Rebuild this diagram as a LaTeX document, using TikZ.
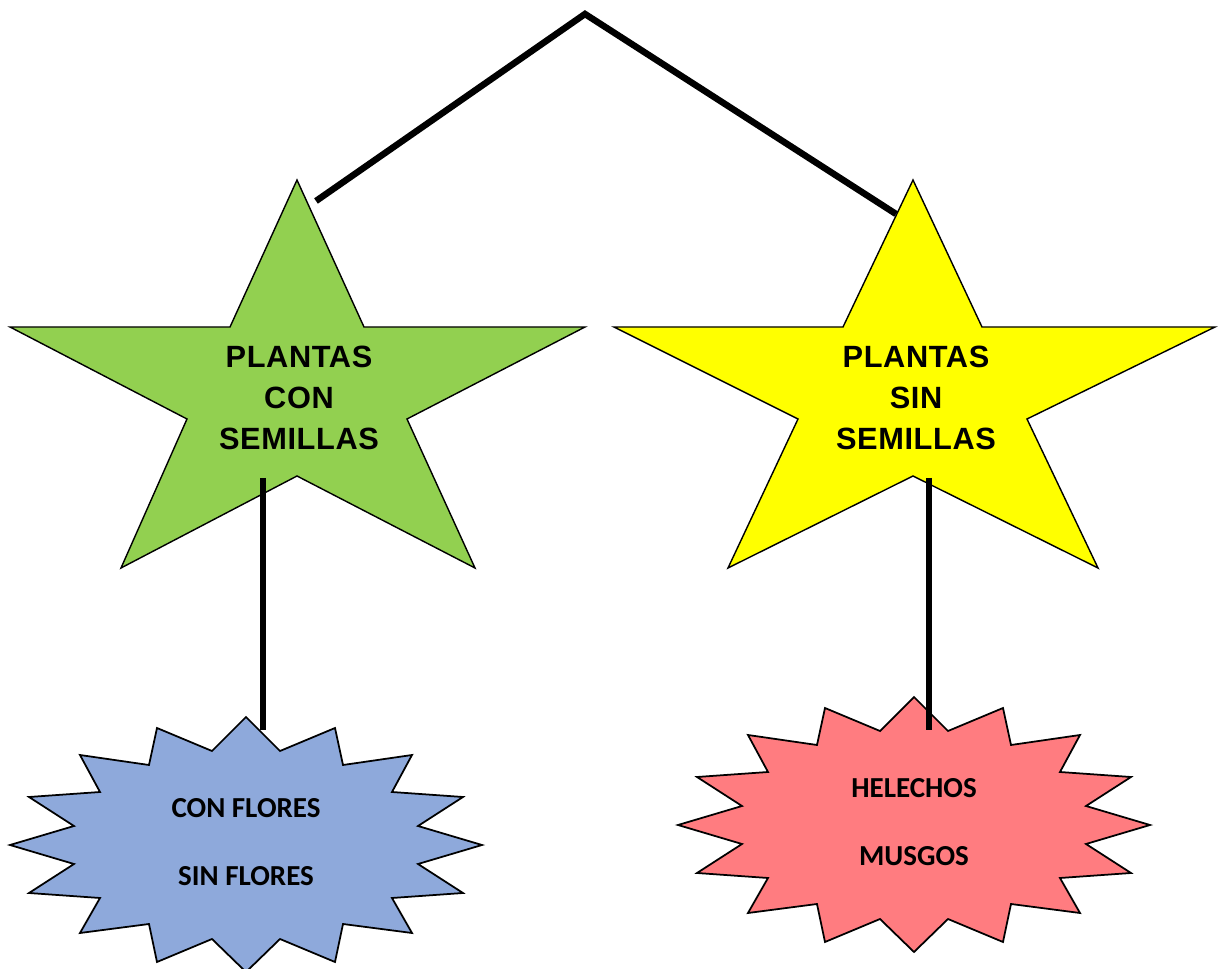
\documentclass[tikz,border=0pt]{standalone}
\usepackage{fontspec}
\setmainfont{Liberation Sans}
\newfontfamily\ancha[LetterSpace=2]{Liberation Sans}
\newfontfamily\carlito{Carlito}
\usepackage{tikz}
\tikzset{>=stealth}

\definecolor{verde}{HTML}{92D050}
\definecolor{amarillo}{HTML}{FFFF00}
\definecolor{azul}{HTML}{8EA9DB}
\definecolor{rosa}{HTML}{FF7C80}

\tikzset{
  estrella/.style={draw=black, line width=0.8pt, line join=miter},
  burbuja/.style={draw=black, line width=1pt, line join=miter},
  rama/.style={line width=3.7pt},
  titulo/.style={align=center, font=\ancha\bfseries\fontsize{17.5}{23.2}\selectfont},
  rotulo/.style={align=center, font=\carlito\bfseries\fontsize{16.5}{38.5}\selectfont},
}

% burst drawn around a centre
\newcommand{\estallido}[2]{%
  \filldraw[burbuja, fill=#2, shift={#1}]
    (0,-128) -- (34,-94) -- (89,-117) -- (97,-80) -- (166,-90) -- (146,-53)
    -- (217,-48) -- (172,-19) -- (236,0) -- (172,19) -- (217,48) -- (146,53)
    -- (166,88) -- (97,79) -- (89,117) -- (34,94) -- (0,127) -- (-34,94)
    -- (-89,117) -- (-97,79) -- (-166,88) -- (-146,53) -- (-217,48) -- (-172,19)
    -- (-236,0) -- (-172,-19) -- (-217,-48) -- (-146,-53) -- (-166,-90)
    -- (-97,-80) -- (-89,-117) -- (-34,-94) -- cycle;}

\begin{document}
\begin{tikzpicture}[x=0.02cm, y=-0.02cm]
    \useasboundingbox (0,0) rectangle (1218,969);

    \filldraw[estrella, fill=verde] (297,180) -- (364,327) -- (585,327) -- (407,419)
        -- (475,568) -- (297,476) -- (121,568) -- (187,419) -- (10,327) -- (230,327) -- cycle;
    \filldraw[estrella, fill=amarillo] (913,180) -- (982,327) -- (1215,327) -- (1027,419)
        -- (1098,568) -- (913,476) -- (728,568) -- (798,419) -- (614,327) -- (843,327) -- cycle;

    \estallido{(246,845)}{azul}
    \estallido{(914,825)}{rosa}

    \node[titulo] at (299,398) (conSem) {PLANTAS\\CON\\SEMILLAS};
    \node[titulo] at (916,398) (sinSem) {PLANTAS\\SIN\\SEMILLAS};
    \node[rotulo] at (246,842) (flores) {CON FLORES\\SIN FLORES};
    \node[rotulo] at (914,822) (helechos) {HELECHOS\\MUSGOS};

    \coordinate (raiz) at (585,14);
    \coordinate (conTop) at (316,201);
    \coordinate (sinTop) at (896,214);
    \coordinate (conBase) at (263,478);
    \coordinate (floresTop) at (263,730);
    \coordinate (sinBase) at (929,478);
    \coordinate (helechosTop) at (929,730);

    \draw[rama] (conTop) -- (raiz) -- (sinTop);
    \draw[rama] (conBase) -- (floresTop);
    \draw[rama] (sinBase) -- (helechosTop);
\end{tikzpicture}
\end{document}
